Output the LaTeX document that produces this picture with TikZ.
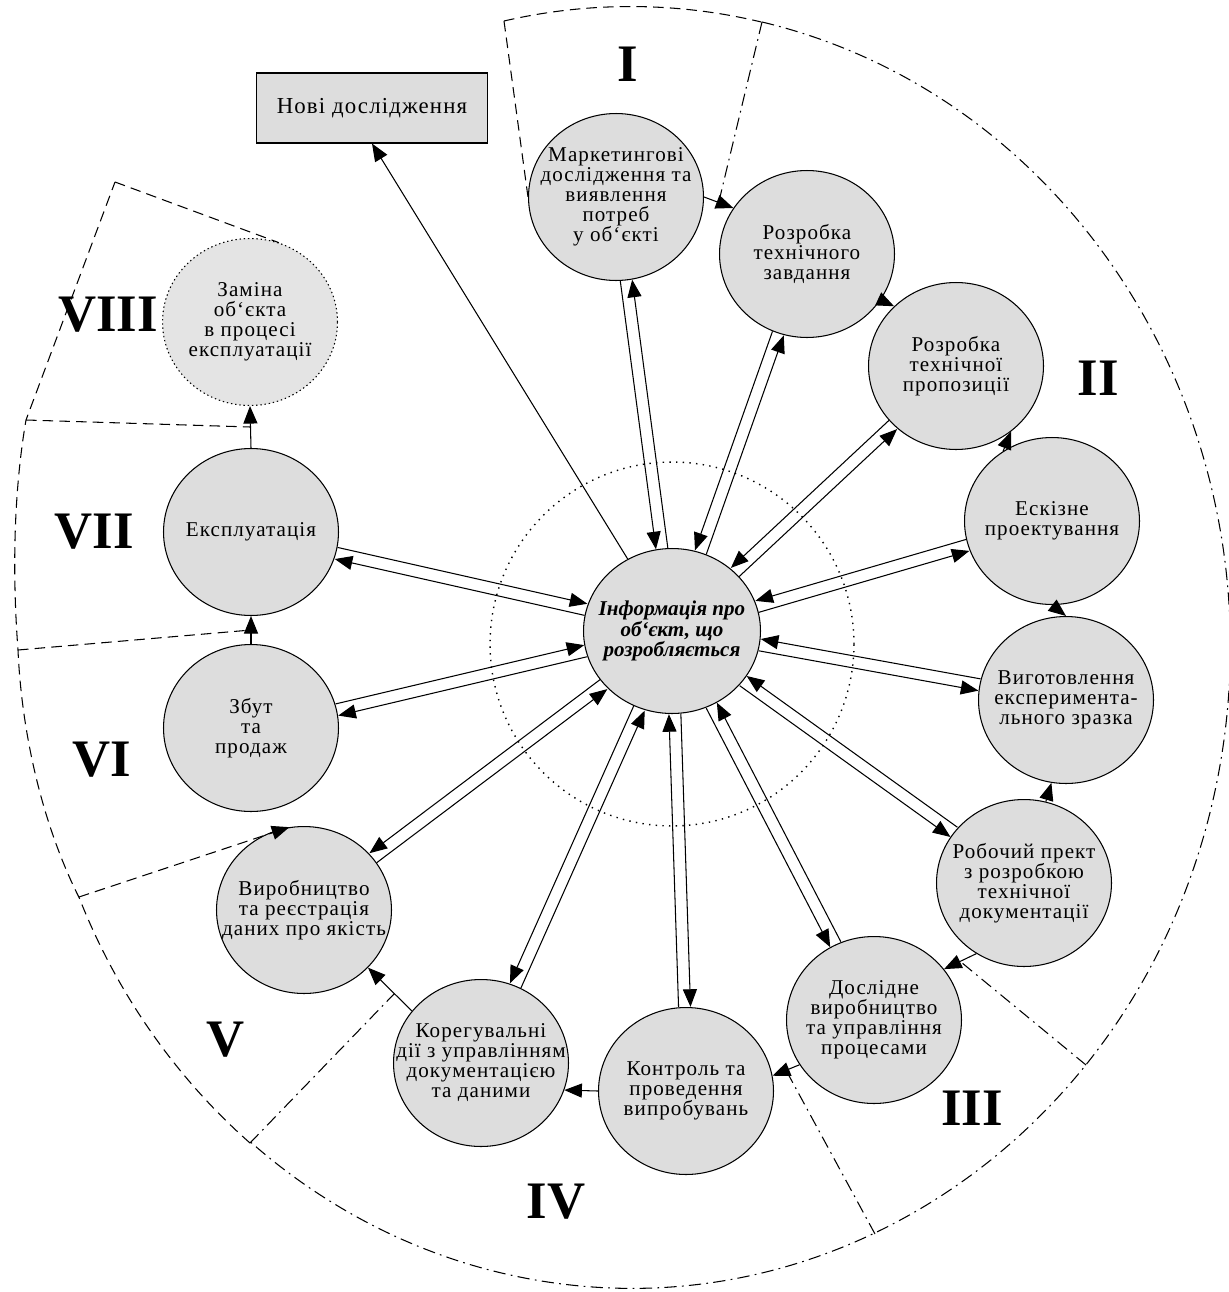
\documentclass[tikz,border=0pt]{standalone}
\usepackage{fontspec}
\setmainfont{Liberation Serif}
\usepackage{tikz}
\usetikzlibrary{shapes, arrows.meta, positioning, calc}
\definecolor{stagegray}{RGB}{221, 221, 221}
\definecolor{replacegray}{RGB}{228, 228, 228}

% two opposite links between the centre and one stage
\newcommand{\infolinks}[2]{%
  \draw[flow] let \p1=(info), \p2=(#1), \n1={atan2(\y2-\y1,\x2-\x1)}, \n2={\n1+180}, \n3={\n1-90*#2} in
    ($(info.\n1)+(\n3:3.4pt)$) -- ($(#1.\n2)+(\n3:3.4pt)$);
  \draw[flow] let \p1=(info), \p2=(#1), \n1={atan2(\y2-\y1,\x2-\x1)}, \n2={\n1+180}, \n3={\n1+90*#2} in
    ($(#1.\n2)+(\n3:3.4pt)$) -- ($(info.\n1)+(\n3:3.4pt)$);%
}

\begin{document}
\begin{tikzpicture}[x=0.02cm, y=-0.02cm,
  stage/.style={ellipse, draw, line width=0.6pt, fill=stagegray, minimum width=3.5cm, minimum height=3.34cm,
    inner xsep=-20pt, inner ysep=0pt, align=center, font=\fontsize{12}{11.4}\selectfont\addfontfeatures{LetterSpace=5}},
  flow/.style={line width=0.6pt, -{Triangle[length=10pt, width=8pt]}},
  bound/.style={line width=0.6pt, dash pattern=on 6pt off 3.5pt},
  boundalt/.style={line width=0.6pt, dash pattern=on 7pt off 3pt on 1pt off 3pt},
  numeral/.style={font=\fontsize{30}{30}\selectfont\bfseries, inner sep=0pt}]
  \useasboundingbox (0,0) rectangle (1229,1292);

  % Centre: information about the object
  \draw[line width=0.8pt, dash pattern=on 0.8pt off 3pt] (672,644) circle [radius=3.64cm];
  \node[stage, minimum width=3.54cm, minimum height=3.3cm, font=\fontsize{12}{11.6}\selectfont\bfseries\itshape] (info) at (672,631)
    {Інформація про\\об`єкт, що\\розробляється};

  % New research
  \node[draw, line width=0.6pt, fill=stagegray, minimum width=4.62cm, minimum height=1.4cm,
    font=\fontsize{13}{13}\selectfont\addfontfeatures{LetterSpace=5}] (novi) at (372,108) {Нові дослідження};

  % Stages
  \node[stage] (m1) at (616,197) {Маркетингові\\дослідження та\\виявлення\\потреб\\у об`єкті};
  \node[stage] (m2) at (807,254) {Розробка\\технічного\\завдання};
  \node[stage] (m3) at (956,366) {Розробка\\технічної\\пропозиції};
  \node[stage] (m4) at (1052,521) {Ескізне\\проектування};
  \node[stage] (m5) at (1066,700) {Виготовлення\\експеримента-\\льного зразка};
  \node[stage] (m6) at (1024,883) {Робочий прект\\з розробкою\\технічної\\документації};
  \node[stage] (m7) at (874,1020) {Дослідне\\виробництво\\та управління\\процесами};
  \node[stage] (m8) at (686,1091) {Контроль та\\проведення\\випробувань};
  \node[stage] (m9) at (481,1063) {Корегувальні\\дії з управлінням\\документацією\\та даними};
  \node[stage] (m10) at (304,910) {Виробництво\\та реєстрація\\даних про якість};
  \node[stage] (m11) at (251,728) {Збут\\та\\продаж};
  \node[stage] (m12) at (251,532) {Експлуатація};
  \node[stage, fill=replacegray, dash pattern=on 0.8pt off 1.6pt] (m13) at (250,322)
    {Заміна\\об`єкта\\в процесі\\експлуатації};

  % Flow from stage to stage
  \draw[flow] (m1.east) -- coordinate (c12) (m2.148);
  \draw[flow] (m2.-32) -- (m3.136);
  \draw[flow] (m4.125) -- (m3.-50);
  \draw[flow] (m4.south) -- (m5.north);
  \draw[flow] (m6.75) -- (m5.-100);
  \draw[flow] (m6.-124) -- coordinate (c67) (m7.36);
  \draw[flow] (m7.-149) -- coordinate (c78) (m8.10);
  \draw[flow] (m8.west) -- (m9.-18);
  \draw[flow] (m9.143) -- coordinate[pos=0.4] (c910) (m10.-42);
  \draw[flow] (m11.north) -- coordinate (c1112) (m12.south);
  \draw[flow] (m12.north) -- coordinate (c1213) (m13.south);
  \draw[flow] (info) -- (novi.south);

  % Exchange with the centre
  \infolinks{m1}{1}
  \infolinks{m2}{1}
  \infolinks{m3}{1}
  \infolinks{m4}{1}
  \infolinks{m5}{1}
  \infolinks{m6}{1}
  \infolinks{m7}{1}
  \infolinks{m8}{-1}
  \infolinks{m9}{1}
  \infolinks{m10}{1}
  \infolinks{m11}{-1}
  \infolinks{m12}{-1}

  % Outer border of the stages
  \coordinate (cI) at (504,21);
  \coordinate (cII) at (762,22);
  \coordinate (cIII) at (1086,1065);
  \coordinate (cIV) at (875,1234);
  \coordinate (cV) at (250,1143);
  \coordinate (cVI) at (79,897);
  \coordinate (cVII) at (18,650);
  \coordinate (cVIII) at (26,420);
  \coordinate (cTop) at (115,182);
  \draw[bound] (cI) arc [start angle=102.2, end angle=77.4, x radius=11.98cm, y radius=12.82cm];
  \draw[boundalt] (cII) arc [start angle=77.4, end angle=-129.5, x radius=11.98cm, y radius=12.82cm];
  \draw[bound] (cV) arc [start angle=-129.5, end angle=-157.1, x radius=11.98cm, y radius=12.82cm]
    .. controls (45,830) and (22,740) .. (cVII) .. controls (12,570) and (14,490) .. (cVIII) -- (cTop);

  % Borders between the stages
  \draw[bound] (cI) -- (m1.west);
  \draw[boundalt] (cII) -- (c12);
  \draw[boundalt] (cIII) -- (c67);
  \draw[boundalt] (cIV) -- (c78);
  \draw[boundalt] (cV) -- (c910);
  \draw[bound, -{Triangle[length=10pt, width=8pt]}] (cVI) -- (m10.100);
  \draw[bound] (cVII) -- (c1112);
  \draw[bound] (cVIII) -- (c1213);
  \draw[bound] (cTop) -- (m13.70);

  % Stage numbers
  \node[numeral] (numI) at (628,64) {I};
  \node[numeral] (numII) at (1098,378) {II};
  \node[numeral] (numIII) at (972,1108) {III};
  \node[numeral] (numIV) at (556,1202) {IV};
  \node[numeral] (numV) at (226,1040) {V};
  \node[numeral] (numVI) at (102,760) {VI};
  \node[numeral] (numVII) at (94,532) {VII};
  \node[numeral] (numVIII) at (108,315) {VIII};
\end{tikzpicture}
\end{document}
